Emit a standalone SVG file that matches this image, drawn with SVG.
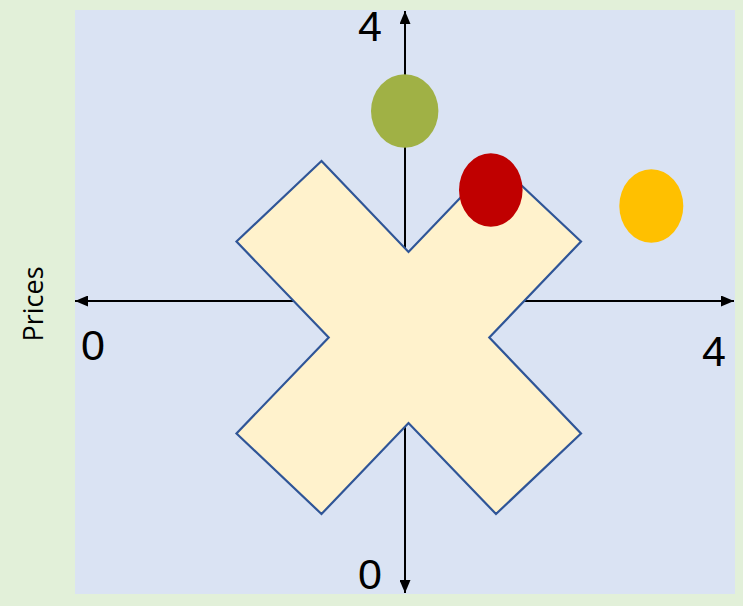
<svg xmlns="http://www.w3.org/2000/svg" width="743" height="606" viewBox="0 0 743 606">
  <style>
    .axis { stroke: #000; stroke-width: 2; fill: none; }
    .lbl { font-family: "Liberation Sans", Arial, sans-serif; font-size: 43px; fill: #000; text-anchor: middle; }
    .title { font-family: "Open Sans", "Liberation Sans", sans-serif; font-size: 27px; fill: #000; text-anchor: middle; }
    .shape { fill: #FFF2CC; stroke: #2F5597; stroke-width: 2.2; stroke-linejoin: miter; }
  </style>
  <defs>
    <marker id="arrow" viewBox="0 0 13 11" refX="13" refY="5.5" markerWidth="13" markerHeight="11" markerUnits="userSpaceOnUse" orient="auto">
      <path d="M0,0 L13,5.5 L0,11 Z" fill="#000"/>
    </marker>
  </defs>

  <!-- page and plot area -->
  <rect x="0" y="0" width="743" height="606" fill="#E2F0D9"/>
  <rect x="75" y="10" width="660" height="584" fill="#DAE3F3"/>

  <!-- axes -->
  <g id="axes">
    <line class="axis" x1="405" y1="301" x2="75" y2="301" marker-end="url(#arrow)"/>
    <line class="axis" x1="405" y1="301" x2="734" y2="301" marker-end="url(#arrow)"/>
    <line class="axis" x1="405" y1="301" x2="405" y2="11" marker-end="url(#arrow)"/>
    <line class="axis" x1="405" y1="301" x2="405" y2="593" marker-end="url(#arrow)"/>
  </g>

  <!-- multiply sign -->
  <g id="cross">
    <polygon class="shape" points="321.5,161 408.5,252 495.5,161 581,241.5 489.3,337.5 581,433.5 496,514 408.5,423 321.5,514 236.5,433.5 328.7,337.5 236.5,241.5"/>
  </g>

  <!-- markers -->
  <g id="green-dot"><ellipse cx="404.7" cy="111" rx="33.7" ry="36.7" fill="#A0B145"/></g>
  <g id="red-dot"><ellipse cx="490.8" cy="190" rx="31.8" ry="36.7" fill="#C00000"/></g>
  <g id="orange-dot"><ellipse cx="651.3" cy="206" rx="32" ry="36.7" fill="#FFC000"/></g>

  <!-- labels -->
  <g id="labels">
    <text class="lbl" x="370" y="41">4</text>
    <text class="lbl" x="93" y="360">0</text>
    <text class="lbl" x="714" y="365.5">4</text>
    <text class="lbl" x="370" y="589">0</text>
    <text class="title" transform="translate(43,304) rotate(-90)">Prices</text>
  </g>
</svg>
